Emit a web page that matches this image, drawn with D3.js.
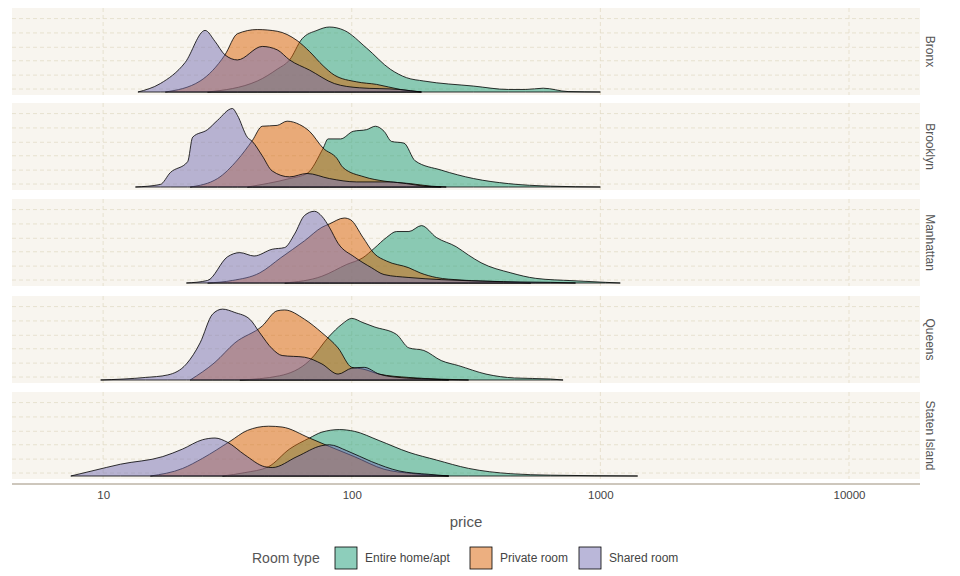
<!DOCTYPE html>
<html><head><meta charset="utf-8">
<script src="https://cdn.jsdelivr.net/npm/d3@7"></script>
<style>body{margin:0;background:#fff;font-family:"Liberation Sans",Arial,sans-serif}</style>
</head><body><svg id="c" width="960" height="576"></svg>
<script>
const boroughs = ["Bronx","Brooklyn","Manhattan","Queens","Staten Island"];
const roomTypes = ["Entire home/apt","Private room","Shared room"];
const colors = ["#1b9e77","#d95f02","#7570b3"];
const xTicks = [10,100,1000,10000];
// density curves: [log10(price), relative density]
const entire = {
 "Bronx":[[1.42,0],[1.62,.13],[1.70,.27],[1.75,.38],[1.80,.63],[1.86,.73],[1.91,.77],[1.97,.73],[2.06,.52],[2.155,.27],[2.22,.17],[2.29,.13],[2.49,.07],[2.63,.03],[2.70,.03],[2.77,.045],[2.87,.005],[3.0,0]],
 "Brooklyn":[[1.58,0],[1.75,.1],[1.82,.16],[1.885,.46],[1.905,.57],[1.955,.57],[2.006,.66],[2.06,.68],[2.095,.72],[2.13,.66],[2.16,.54],[2.21,.52],[2.255,.31],[2.36,.2],[2.49,.1],[2.63,.04],[2.80,.01],[3.0,0]],
 "Manhattan":[[1.73,0],[1.88,.08],[1.98,.22],[2.045,.30],[2.09,.41],[2.14,.54],[2.18,.61],[2.23,.61],[2.28,.68],[2.34,.54],[2.42,.43],[2.47,.33],[2.52,.24],[2.64,.12],[2.74,.055],[2.89,.027],[3.02,.008],[3.08,0]],
 "Queens":[[1.55,0],[1.71,.05],[1.83,.23],[1.91,.52],[1.96,.66],[2.0,.73],[2.045,.68],[2.09,.63],[2.18,.54],[2.23,.38],[2.29,.35],[2.36,.23],[2.43,.17],[2.54,.07],[2.655,.024],[2.8,.012],[2.85,0]],
 "Staten Island":[[1.48,0],[1.57,.04],[1.665,.11],[1.75,.32],[1.83,.45],[1.88,.52],[1.95,.55],[2.01,.53],[2.11,.42],[2.23,.28],[2.34,.19],[2.47,.09],[2.64,.027],[2.8,.01],[3.15,0]]
};
const privateRoom = {
 "Bronx":[[1.25,0],[1.39,.13],[1.49,.44],[1.54,.69],[1.62,.74],[1.70,.72],[1.78,.61],[1.83,.48],[1.885,.31],[1.93,.2],[2.02,.12],[2.10,.09],[2.195,.03],[2.28,0]],
 "Brooklyn":[[1.35,0],[1.46,.1],[1.54,.32],[1.60,.55],[1.64,.72],[1.70,.73],[1.74,.78],[1.79,.74],[1.83,.66],[1.885,.46],[1.94,.34],[1.965,.23],[2.05,.12],[2.13,.07],[2.235,.04],[2.32,.01],[2.38,0]],
 "Manhattan":[[1.42,0],[1.52,.03],[1.63,.12],[1.715,.3],[1.81,.5],[1.88,.66],[1.91,.70],[1.97,.77],[1.995,.75],[2.045,.54],[2.09,.35],[2.14,.26],[2.23,.18],[2.275,.12],[2.34,.065],[2.44,.035],[2.61,.015],[2.72,0]],
 "Queens":[[1.35,0],[1.45,.21],[1.53,.44],[1.64,.64],[1.70,.82],[1.73,.83],[1.81,.72],[1.88,.56],[1.945,.38],[2.0,.15],[2.045,.13],[2.11,.07],[2.23,.03],[2.36,.01],[2.47,0]],
 "Staten Island":[[1.19,0],[1.32,.09],[1.40,.21],[1.51,.41],[1.58,.54],[1.665,.59],[1.72,.58],[1.83,.45],[1.91,.35],[2.01,.23],[2.13,.08],[2.24,.03],[2.39,0]]
};
const shared = {
 "Bronx":[[1.14,0],[1.23,.1],[1.33,.35],[1.41,.73],[1.45,.6],[1.49,.44],[1.54,.38],[1.64,.54],[1.70,.5],[1.75,.38],[1.83,.26],[1.93,.1],[2.03,.05],[2.19,.03],[2.28,0]],
 "Brooklyn":[[1.13,0],[1.23,.03],[1.27,.17],[1.34,.3],[1.36,.59],[1.42,.68],[1.46,.79],[1.52,.93],[1.54,.85],[1.58,.59],[1.60,.54],[1.64,.37],[1.68,.19],[1.75,.12],[1.82,.16],[1.91,.1],[2.02,.06],[2.15,.06],[2.22,.04],[2.29,.01],[2.36,0]],
 "Manhattan":[[1.335,0],[1.42,.03],[1.5,.31],[1.55,.36],[1.607,.32],[1.68,.40],[1.73,.42],[1.77,.58],[1.81,.80],[1.85,.85],[1.88,.79],[1.91,.66],[1.945,.47],[2.01,.31],[2.08,.18],[2.13,.10],[2.23,.065],[2.36,.04],[2.47,.027],[2.61,.015],[2.8,.008],[2.9,0]],
 "Queens":[[0.99,0],[1.17,.03],[1.26,.06],[1.335,.19],[1.39,.44],[1.44,.78],[1.48,.84],[1.53,.8],[1.59,.72],[1.63,.56],[1.68,.37],[1.72,.29],[1.81,.27],[1.88,.19],[1.945,.07],[2.0,.14],[2.05,.15],[2.11,.07],[2.19,.03],[2.31,.012],[2.39,0]],
 "Staten Island":[[0.87,0],[0.955,.06],[1.07,.14],[1.24,.23],[1.32,.32],[1.40,.43],[1.45,.45],[1.5,.4],[1.57,.25],[1.65,.11],[1.68,.1],[1.78,.23],[1.88,.36],[1.91,.37],[1.98,.30],[2.08,.17],[2.19,.06],[2.31,.02],[2.39,0]]
};
const series = [entire, privateRoom, shared];

const svg = d3.select("#c");
const left = 12, right = 920, panelTops = [8,103,199,296,392], ph = 87;
const x = d3.scaleLog().domain([4.3,19300]).range([left,right]);
const gridH = [0.035,0.2,0.37,0.53,0.7,0.87];

boroughs.forEach((b,i)=>{
  const top = panelTops[i], bottom = top+ph;
  const y = d3.scaleLinear().domain([0,1]).range([bottom-3, bottom-3-ph*0.97]);
  const g = svg.append("g");
  g.append("rect").attr("x",left).attr("y",top).attr("width",right-left).attr("height",ph).attr("fill","#f8f5ef");
  gridH.forEach(h=>g.append("line").attr("x1",left).attr("x2",right).attr("y1",y(h)).attr("y2",y(h))
     .attr("stroke","#e3dcc8").attr("stroke-dasharray","4,3").attr("stroke-width",0.8));
  xTicks.forEach(t=>g.append("line").attr("x1",x(t)).attr("x2",x(t)).attr("y1",top).attr("y2",bottom)
     .attr("stroke","#e3dcc8").attr("stroke-dasharray","4,3").attr("stroke-width",0.8));
  const area = d3.area().x(d=>x(Math.pow(10,d[0]))).y0(y(0)).y1(d=>y(d[1])).curve(d3.curveMonotoneX);
  series.forEach((s,k)=>{
    g.append("path").datum(s[b]).attr("d",area).attr("fill",colors[k]).attr("fill-opacity",0.5)
      .attr("stroke","#000").attr("stroke-width",0.8);
  });
  svg.append("text").attr("transform",`translate(930,${top+ph/2}) rotate(90)`).attr("text-anchor","middle")
    .attr("dy","0.35em").attr("font-size",12).attr("fill","#555").text(b);
});
svg.append("line").attr("x1",left).attr("x2",right).attr("y1",484).attr("y2",484).attr("stroke","#9c8f7a");
const ax = svg.append("g").attr("transform","translate(0,484)")
  .call(d3.axisBottom(x).tickValues(xTicks).tickFormat(d3.format("d")).tickSize(0).tickPadding(7));
ax.select(".domain").remove();
ax.selectAll("text").attr("font-size",11.5).attr("fill","#444").attr("font-family","Liberation Sans,Arial");
svg.append("text").attr("x",466).attr("y",527).attr("text-anchor","middle").attr("font-size",15).attr("fill","#555").text("price");
const lg = svg.append("g").attr("transform","translate(0,558)");
lg.append("text").attr("x",252).attr("y",0).attr("dy","0.35em").attr("font-size",14).attr("fill","#555").text("Room type");
const lx = [335,470,579];
roomTypes.forEach((r,k)=>{
  lg.append("rect").attr("x",lx[k]).attr("y",-11).attr("width",22).attr("height",22)
    .attr("fill",colors[k]).attr("fill-opacity",0.5).attr("stroke","#000").attr("stroke-width",0.8);
  lg.append("text").attr("x",lx[k]+30).attr("y",0).attr("dy","0.35em").attr("font-size",12).attr("fill","#444").text(r);
});
</script></body></html>
